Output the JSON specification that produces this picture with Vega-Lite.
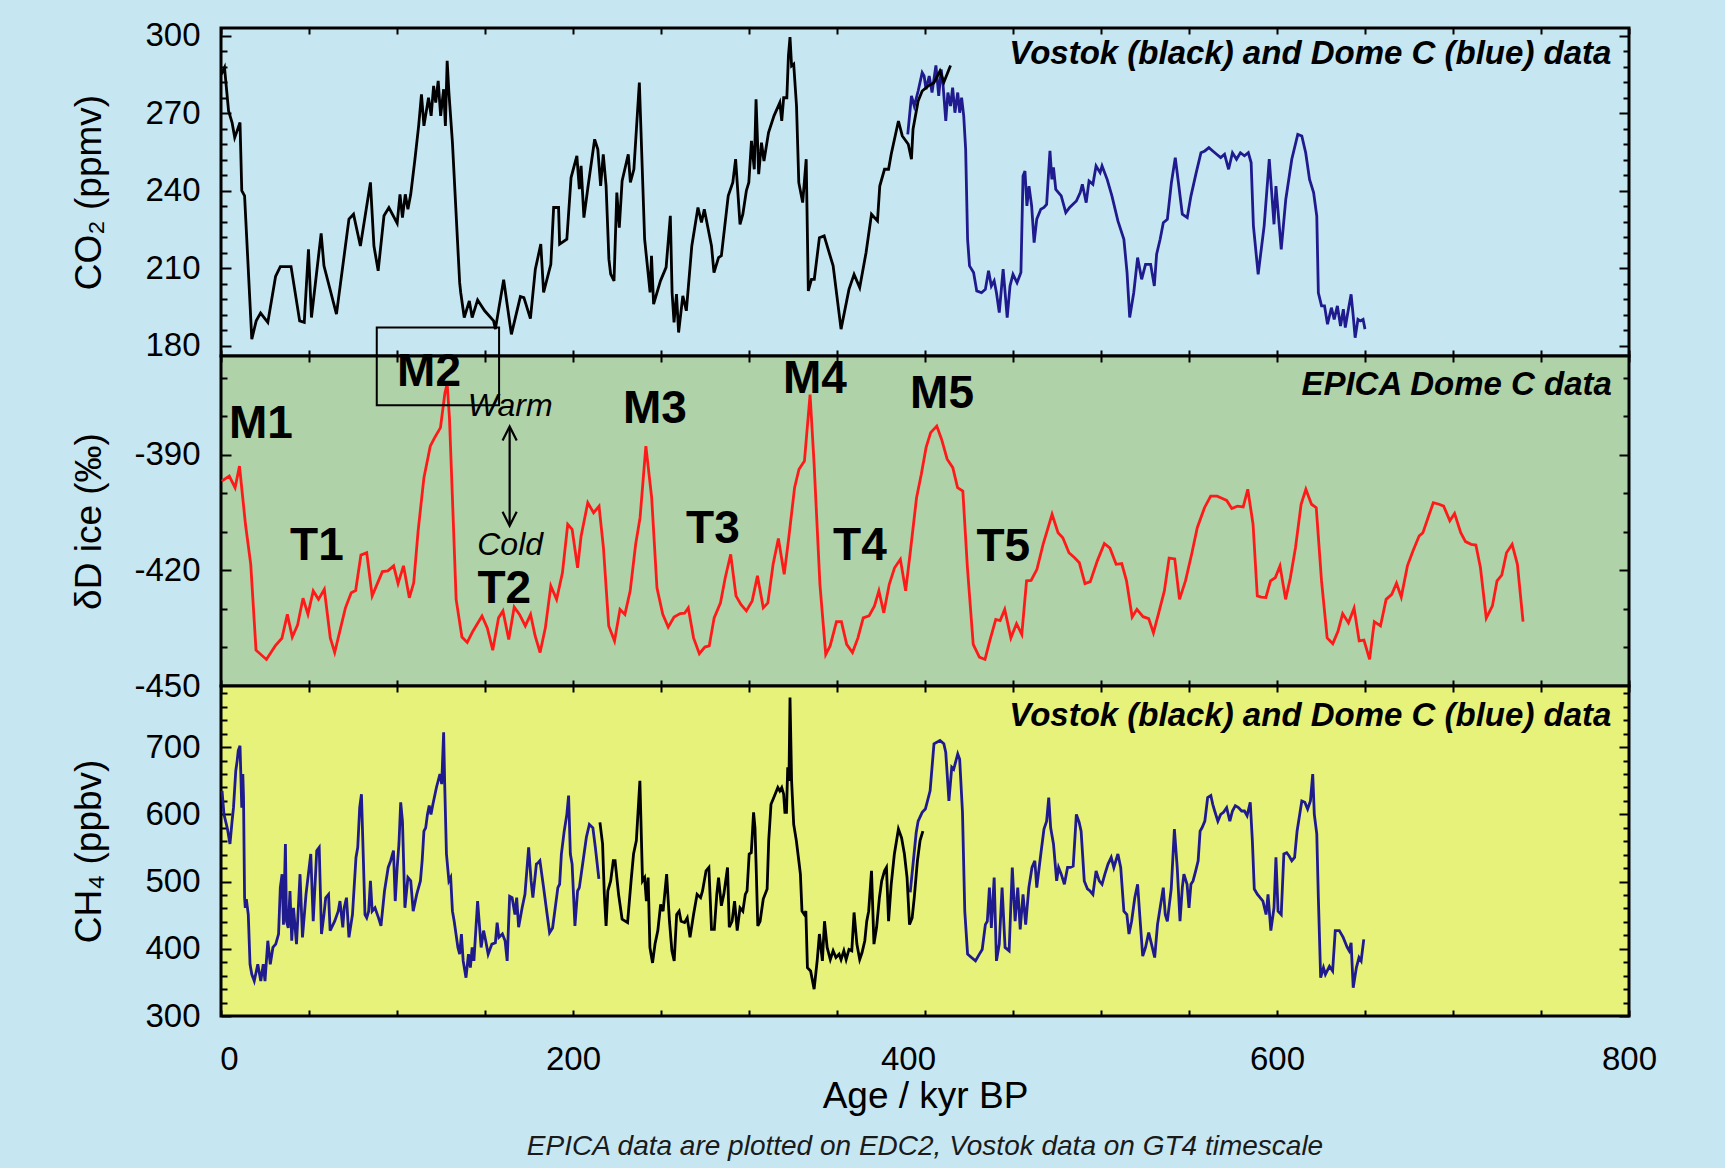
{
  "$schema": "https://vega.github.io/schema/vega-lite/v6.json",
  "background": "#c6e7f1",
  "padding": {"left": 68, "top": 18, "right": 72, "bottom": 11},
  "spacing": 0,
  "bounds": "flush",
  "config": {
    "font": "Liberation Sans",
    "view": {"stroke": null},
    "concat": {"spacing": 0},
    "axis": {
      "domain": false, "grid": false, "tickColor": "#000000", "tickWidth": 2, "tickSize": -6,
      "labelFont": "Liberation Sans", "labelFontSize": 33, "labelColor": "#000000",
      "titleFont": "Liberation Sans", "titleFontSize": 37, "titleFontWeight": "normal", "titleColor": "#000000",
      "labelOverlap": false, "labelFlush": false
    }
  },
  "title": {
    "text": "EPICA data are plotted on EDC2, Vostok data on GT4 timescale",
    "orient": "bottom", "anchor": "middle", "frame": "group",
    "font": "Liberation Sans", "fontSize": 28, "fontStyle": "italic", "fontWeight": "normal",
    "color": "#1a1a1a", "offset": 17
  },
  "datasets": {
    "co2_vostok": [
      {"age":0.2,"co2":285},{"age":2,"co2":287.7},{"age":4.3,"co2":270.9},{"age":6.3,"co2":266.4},{"age":7.8,"co2":260.6},{"age":8.8,"co2":262.5},{"age":10.8,"co2":266.4},{"age":11.8,"co2":240},{"age":13.4,"co2":238},{"age":17.5,"co2":182.5},{"age":20,"co2":189.6},{"age":22.5,"co2":192.6},{"age":26.6,"co2":189},{"age":31,"co2":206.8},{"age":33.7,"co2":210.6},{"age":39.8,"co2":210.6},{"age":44.7,"co2":189.6},{"age":47.3,"co2":189},{"age":49.7,"co2":217.3},{"age":51.4,"co2":190.9},{"age":56.9,"co2":223.5},{"age":58.5,"co2":210.9},{"age":65.6,"co2":192.2},{"age":72.7,"co2":229},{"age":75.3,"co2":230.9},{"age":79.2,"co2":218.6},{"age":84.9,"co2":243.2},{"age":86.9,"co2":218.6},{"age":89.3,"co2":209},{"age":92.6,"co2":230.3},{"age":95.4,"co2":233.5},{"age":100.1,"co2":227.4},{"age":101.7,"co2":238.6},{"age":103.1,"co2":229.6},{"age":104.7,"co2":238.6},{"age":106.2,"co2":232.8},{"age":107.8,"co2":238.6},{"age":110.2,"co2":252.2},{"age":112.3,"co2":265.1},{"age":113.9,"co2":277.3},{"age":115.3,"co2":265.1},{"age":117.9,"co2":276},{"age":119.4,"co2":269},{"age":120.8,"co2":280.6},{"age":122,"co2":274.1},{"age":123.4,"co2":282.5},{"age":124.8,"co2":269},{"age":126.5,"co2":279.3},{"age":127.5,"co2":265.1},{"age":128.5,"co2":290.3},{"age":129.5,"co2":278},{"age":131.5,"co2":258.6},{"age":135.6,"co2":204.4},{"age":136.2,"co2":200.6},{"age":138.2,"co2":190.9},{"age":141.1,"co2":197.3},{"age":142.7,"co2":190.9},{"age":145.8,"co2":197.7},{"age":149.8,"co2":193.5},{"age":154.9,"co2":189.6},{"age":155.9,"co2":186.4},{"age":160.6,"co2":205.5},{"age":165,"co2":184.4},{"age":170.1,"co2":199},{"age":172.1,"co2":198.6},{"age":175.8,"co2":190.5},{"age":178.6,"co2":209.6},{"age":181.7,"co2":219.3},{"age":183.3,"co2":200.6},{"age":187.4,"co2":211.5},{"age":189,"co2":233.5},{"age":191.8,"co2":233.5},{"age":192.4,"co2":219.3},{"age":196.5,"co2":221.2},{"age":198.9,"co2":245.1},{"age":202.2,"co2":253.5},{"age":203.6,"co2":240.6},{"age":204.6,"co2":249.6},{"age":206.2,"co2":229.6},{"age":208.6,"co2":241.9},{"age":212.3,"co2":259.9},{"age":214.1,"co2":256},{"age":215.7,"co2":241.9},{"age":217.2,"co2":254.1},{"age":218.8,"co2":241.9},{"age":220.4,"co2":213.5},{"age":221.4,"co2":207.7},{"age":223.3,"co2":205.1},{"age":224.9,"co2":239.3},{"age":226.3,"co2":225.7},{"age":227.9,"co2":243.8},{"age":231.4,"co2":254.1},{"age":232.6,"co2":243.2},{"age":234.6,"co2":248.3},{"age":237.7,"co2":281.9},{"age":240.7,"co2":221.2},{"age":243.8,"co2":200.6},{"age":244.6,"co2":214.8},{"age":245.8,"co2":196.1},{"age":249.7,"co2":205.1},{"age":252.9,"co2":210.3},{"age":255.3,"co2":230.3},{"age":256.3,"co2":200.6},{"age":257.4,"co2":189},{"age":258.8,"co2":200},{"age":260,"co2":185.1},{"age":262.4,"co2":199.3},{"age":264.4,"co2":193.5},{"age":267.5,"co2":218.6},{"age":271,"co2":233.5},{"age":273,"co2":227.7},{"age":274.6,"co2":232.8},{"age":278.7,"co2":218.6},{"age":280.1,"co2":208.3},{"age":282.7,"co2":214.1},{"age":284.3,"co2":214.8},{"age":288.2,"co2":238},{"age":290.8,"co2":243.2},{"age":292.4,"co2":252.2},{"age":294.9,"co2":227},{"age":296.5,"co2":230.9},{"age":298.5,"co2":240},{"age":299.9,"co2":243.2},{"age":301.4,"co2":259.3},{"age":303,"co2":248.3},{"age":304,"co2":275.4},{"age":305.5,"co2":246.4},{"age":307.1,"co2":258.6},{"age":308.5,"co2":251.5},{"age":311.1,"co2":262.5},{"age":314.2,"co2":269},{"age":317.5,"co2":274.1},{"age":318.6,"co2":267},{"age":319.7,"co2":276},{"age":321.5,"co2":276},{"age":322.4,"co2":292.2},{"age":323.3,"co2":299.5},{"age":324.2,"co2":288.3},{"age":325.4,"co2":289},{"age":327,"co2":272.8},{"age":328.3,"co2":243.1},{"age":330.5,"co2":235.4},{"age":332.5,"co2":252.2},{"age":333.7,"co2":201.2},{"age":335.5,"co2":205.7},{"age":337.1,"co2":205.7},{"age":340,"co2":221.8},{"age":342.7,"co2":222.5},{"age":347.8,"co2":210.9},{"age":352.3,"co2":186.4},{"age":356.8,"co2":201.8},{"age":359.7,"co2":207.6},{"age":362.9,"co2":202.5},{"age":366.5,"co2":216},{"age":369.6,"co2":230.9},{"age":373,"co2":228.3},{"age":374.3,"co2":241.8},{"age":377,"co2":248.3},{"age":379.3,"co2":248.3},{"age":380.8,"co2":254.1},{"age":384.9,"co2":267},{"age":387.1,"co2":261.2},{"age":390.5,"co2":258},{"age":392.3,"co2":252.2},{"age":393.2,"co2":263.8},{"age":396.1,"co2":274.7},{"age":398.4,"co2":278.6},{"age":401.7,"co2":280.5},{"age":405.1,"co2":281.8},{"age":408.5,"co2":286.3},{"age":410.7,"co2":282},{"age":414.5,"co2":288.5}
    ],
    "co2_domec": [
      {"age":390.2,"co2":261.8},{"age":392.3,"co2":276.7},{"age":393.9,"co2":272.8},{"age":396.1,"co2":278.6},{"age":398.4,"co2":285.7},{"age":399.5,"co2":284.4},{"age":400.6,"co2":279.3},{"age":402.4,"co2":284.4},{"age":404,"co2":278},{"age":406.2,"co2":288.5},{"age":407.8,"co2":276.7},{"age":409.2,"co2":287},{"age":410.3,"co2":280.6},{"age":411.8,"co2":267},{"age":413,"co2":278},{"age":414.5,"co2":272.8},{"age":415.7,"co2":279.9},{"age":417,"co2":270.2},{"age":418.6,"co2":278},{"age":419.7,"co2":270.2},{"age":420.8,"co2":276},{"age":422,"co2":269},{"age":423.1,"co2":256},{"age":424.2,"co2":221.2},{"age":425.3,"co2":210.9},{"age":427.6,"co2":208.3},{"age":429.4,"co2":201.2},{"age":432.1,"co2":200.5},{"age":434.3,"co2":201.8},{"age":436.1,"co2":209},{"age":437.7,"co2":203.1},{"age":439.3,"co2":205.1},{"age":440.6,"co2":200.5},{"age":442.2,"co2":192.8},{"age":444.4,"co2":209.6},{"age":446.7,"co2":190.9},{"age":448.3,"co2":203.1},{"age":450,"co2":207.6},{"age":452.3,"co2":204.4},{"age":454.5,"co2":208.3},{"age":455.7,"co2":245.7},{"age":456.8,"co2":247.6},{"age":457.9,"co2":234.1},{"age":459.1,"co2":241.8},{"age":460.6,"co2":234.1},{"age":462,"co2":219.9},{"age":463.5,"co2":229},{"age":465.8,"co2":232.8},{"age":467.6,"co2":233.5},{"age":469.1,"co2":234.7},{"age":471,"co2":255.4},{"age":472.1,"co2":244.4},{"age":473,"co2":249},{"age":474.3,"co2":240.5},{"age":477.4,"co2":238},{"age":480,"co2":231.5},{"age":482.2,"co2":233.5},{"age":486,"co2":236},{"age":488.2,"co2":239.3},{"age":489.4,"co2":242.5},{"age":491.6,"co2":235.4},{"age":493.2,"co2":243.8},{"age":495.4,"co2":242.5},{"age":497.2,"co2":249.6},{"age":499.5,"co2":247},{"age":500.6,"co2":249.6},{"age":503.5,"co2":244.4},{"age":506.2,"co2":238},{"age":509.6,"co2":228.3},{"age":513,"co2":221.2},{"age":514.8,"co2":208.3},{"age":516.3,"co2":190.9},{"age":518.6,"co2":200.5},{"age":520.8,"co2":214.1},{"age":523.1,"co2":205.7},{"age":525.3,"co2":211.5},{"age":528.2,"co2":211.5},{"age":530.3,"co2":203.1},{"age":531.6,"co2":215.4},{"age":533.6,"co2":221.2},{"age":535.4,"co2":227.6},{"age":537.7,"co2":228.9},{"age":540,"co2":243.1},{"age":542.2,"co2":252.8},{"age":544,"co2":243.1},{"age":546.2,"co2":230.9},{"age":549,"co2":229.6},{"age":551.1,"co2":237.9},{"age":554.1,"co2":247},{"age":556.8,"co2":254.7},{"age":559,"co2":255.4},{"age":561.3,"co2":256.7},{"age":563.5,"co2":255.4},{"age":565.7,"co2":254.1},{"age":568,"co2":252.8},{"age":570.2,"co2":254.1},{"age":572.5,"co2":248.3},{"age":574.7,"co2":254.7},{"age":577,"co2":252.2},{"age":579.2,"co2":254.7},{"age":581.5,"co2":253.5},{"age":583.7,"co2":254.7},{"age":585.3,"co2":250.9},{"age":586.6,"co2":226.4},{"age":589.3,"co2":207.6},{"age":592.7,"co2":226.4},{"age":595.6,"co2":252.2},{"age":598.3,"co2":227},{"age":599.4,"co2":241.8},{"age":602.4,"co2":217.3},{"age":605,"co2":236.7},{"age":608.4,"co2":252.2},{"age":611.8,"co2":261.8},{"age":614.1,"co2":261.2},{"age":616.3,"co2":254.7},{"age":618.5,"co2":244.4},{"age":620.8,"co2":239.3},{"age":622.6,"co2":230.2},{"age":623.5,"co2":200.5},{"age":625.3,"co2":195.4},{"age":627,"co2":195.4},{"age":628.7,"co2":188.3},{"age":630.9,"co2":194.7},{"age":632.5,"co2":190.2},{"age":634.3,"co2":195.4},{"age":636.1,"co2":187.6},{"age":637.7,"co2":194.1},{"age":638.8,"co2":187},{"age":639.9,"co2":191.5},{"age":642.1,"co2":199.9},{"age":643.3,"co2":191.5},{"age":644.4,"co2":183.1},{"age":646,"co2":190.2},{"age":647.3,"co2":189.6},{"age":648.9,"co2":190.2},{"age":650,"co2":186.4}
    ],
    "dd": [
      {"age":0.4,"dD":-396.8},{"age":4.7,"dD":-395.5},{"age":8,"dD":-398.5},{"age":10.5,"dD":-392.9},{"age":13.9,"dD":-408},{"age":16.9,"dD":-418.4},{"age":19.9,"dD":-440.7},{"age":25.8,"dD":-443.1},{"age":30.8,"dD":-439.6},{"age":34.6,"dD":-437.6},{"age":37.7,"dD":-431.4},{"age":40.5,"dD":-437.3},{"age":43.5,"dD":-434.2},{"age":46.6,"dD":-427.2},{"age":49.4,"dD":-431.4},{"age":52.4,"dD":-425.3},{"age":55.4,"dD":-427.5},{"age":58.7,"dD":-424.9},{"age":62.1,"dD":-437.5},{"age":64.6,"dD":-441.3},{"age":70.7,"dD":-429.7},{"age":74,"dD":-425.8},{"age":76.5,"dD":-425.2},{"age":79.5,"dD":-416},{"age":82.8,"dD":-415.4},{"age":85.9,"dD":-426.6},{"age":91.7,"dD":-420.3},{"age":94.8,"dD":-420.1},{"age":98.1,"dD":-418.8},{"age":100.6,"dD":-423.4},{"age":103.7,"dD":-418.8},{"age":107,"dD":-427.1},{"age":109.5,"dD":-423.2},{"age":112,"dD":-409.7},{"age":115.3,"dD":-395.9},{"age":118.9,"dD":-387.7},{"age":121.4,"dD":-385.5},{"age":124.7,"dD":-382.9},{"age":127.2,"dD":-374},{"age":128.5,"dD":-371.5},{"age":129.8,"dD":-380.3},{"age":131,"dD":-395},{"age":133.6,"dD":-427.5},{"age":136.9,"dD":-437.3},{"age":139.9,"dD":-438.7},{"age":143.2,"dD":-435.7},{"age":148.3,"dD":-431.8},{"age":151.3,"dD":-434.9},{"age":154.4,"dD":-440.7},{"age":157.7,"dD":-432.3},{"age":160.2,"dD":-430.5},{"age":163.5,"dD":-437.9},{"age":166.6,"dD":-429.5},{"age":169.6,"dD":-431.4},{"age":172.9,"dD":-434.4},{"age":175.9,"dD":-431.4},{"age":178.5,"dD":-437},{"age":181.3,"dD":-441.3},{"age":184.3,"dD":-434.9},{"age":187.4,"dD":-424},{"age":190.7,"dD":-427.5},{"age":194,"dD":-420.6},{"age":197,"dD":-408},{"age":199.5,"dD":-409.3},{"age":202.6,"dD":-419.3},{"age":204.6,"dD":-411.1},{"age":208.4,"dD":-402.4},{"age":211.7,"dD":-405},{"age":214.8,"dD":-403.3},{"age":217.3,"dD":-414.1},{"age":220.3,"dD":-434.4},{"age":223.6,"dD":-438.3},{"age":226.7,"dD":-430.1},{"age":229.5,"dD":-431.4},{"age":232.5,"dD":-425.3},{"age":235.6,"dD":-413.2},{"age":238.1,"dD":-406.3},{"age":241.4,"dD":-387.7},{"age":244.7,"dD":-401.1},{"age":247.7,"dD":-424.5},{"age":251,"dD":-431.4},{"age":254.1,"dD":-434.7},{"age":257.4,"dD":-432.1},{"age":260.9,"dD":-431.2},{"age":263.4,"dD":-431.1},{"age":265.5,"dD":-429.7},{"age":268.5,"dD":-437.5},{"age":271.8,"dD":-441.6},{"age":274.9,"dD":-439.9},{"age":277.4,"dD":-439.6},{"age":280.2,"dD":-432.3},{"age":283.8,"dD":-428.4},{"age":286.5,"dD":-421.9},{"age":289.6,"dD":-415.8},{"age":292.6,"dD":-426.6},{"age":295.4,"dD":-428.8},{"age":298.5,"dD":-430.5},{"age":301.8,"dD":-427.9},{"age":304.8,"dD":-421.4},{"age":308.1,"dD":-429.7},{"age":310.7,"dD":-428.4},{"age":313.7,"dD":-418.4},{"age":316.7,"dD":-411.7},{"age":320,"dD":-421},{"age":322.6,"dD":-411.5},{"age":325.9,"dD":-398.5},{"age":328.4,"dD":-393.7},{"age":331.5,"dD":-391.6},{"age":334.7,"dD":-374.3},{"age":337,"dD":-392.4},{"age":340.3,"dD":-423.6},{"age":343.6,"dD":-441.8},{"age":346.1,"dD":-439.6},{"age":349.7,"dD":-433.3},{"age":352.5,"dD":-433.3},{"age":355.5,"dD":-439.2},{"age":358.8,"dD":-441.3},{"age":361.9,"dD":-437.5},{"age":364.9,"dD":-432.3},{"age":368.2,"dD":-431.8},{"age":371.3,"dD":-429.2},{"age":373.8,"dD":-425.3},{"age":376.6,"dD":-431},{"age":379.7,"dD":-423.6},{"age":382.7,"dD":-419.3},{"age":386,"dD":-417.1},{"age":389,"dD":-425.3},{"age":391.7,"dD":-415},{"age":395.2,"dD":-401.1},{"age":397.9,"dD":-395},{"age":400.6,"dD":-388.1},{"age":403.2,"dD":-384.2},{"age":406.7,"dD":-382.5},{"age":409.4,"dD":-385.9},{"age":412.6,"dD":-391.1},{"age":415.8,"dD":-393.3},{"age":418.5,"dD":-398.5},{"age":421.5,"dD":-399.4},{"age":424.1,"dD":-419.3},{"age":427.4,"dD":-439.2},{"age":430.9,"dD":-442.5},{"age":434.1,"dD":-443.1},{"age":436.8,"dD":-438.3},{"age":440.2,"dD":-432.7},{"age":442.7,"dD":-433},{"age":445.3,"dD":-430.1},{"age":448.8,"dD":-437.5},{"age":452,"dD":-433.8},{"age":455,"dD":-436.6},{"age":457.7,"dD":-422.7},{"age":460.3,"dD":-422.6},{"age":463.6,"dD":-419.7},{"age":467.1,"dD":-413.2},{"age":472.2,"dD":-405.4},{"age":475.6,"dD":-410.2},{"age":478.3,"dD":-411.5},{"age":481.8,"dD":-415.4},{"age":485,"dD":-416.7},{"age":487.7,"dD":-418},{"age":490.9,"dD":-423.4},{"age":493.9,"dD":-422.9},{"age":497.9,"dD":-417.5},{"age":501.9,"dD":-413},{"age":505.1,"dD":-414.2},{"age":508.6,"dD":-418.4},{"age":511.8,"dD":-418.2},{"age":514.5,"dD":-422.7},{"age":517.7,"dD":-432.1},{"age":520.4,"dD":-430.1},{"age":523.9,"dD":-432},{"age":527.1,"dD":-432.5},{"age":529.8,"dD":-436.2},{"age":532.8,"dD":-431},{"age":536,"dD":-425.3},{"age":538.7,"dD":-416.8},{"age":541.9,"dD":-417},{"age":544.6,"dD":-427.5},{"age":548,"dD":-422.7},{"age":551.5,"dD":-415.8},{"age":554.7,"dD":-408.9},{"age":558.8,"dD":-403.7},{"age":562.3,"dD":-400.7},{"age":566,"dD":-400.7},{"age":569,"dD":-401.3},{"age":571.4,"dD":-401.8},{"age":574.3,"dD":-403.9},{"age":577.5,"dD":-403.3},{"age":580.8,"dD":-403.5},{"age":583.4,"dD":-398.9},{"age":586.4,"dD":-408},{"age":588.8,"dD":-426.6},{"age":591,"dD":-426.9},{"age":593.7,"dD":-427},{"age":596.3,"dD":-422.7},{"age":599,"dD":-421.9},{"age":601.7,"dD":-418.8},{"age":604.9,"dD":-427.5},{"age":607.6,"dD":-421.9},{"age":610.5,"dD":-414.1},{"age":613.7,"dD":-402.8},{"age":616.4,"dD":-398.9},{"age":619.6,"dD":-402.8},{"age":622.3,"dD":-403.7},{"age":625.3,"dD":-422.7},{"age":628.5,"dD":-437.5},{"age":631.7,"dD":-439},{"age":634.7,"dD":-435.7},{"age":637.3,"dD":-431.2},{"age":640.6,"dD":-433.6},{"age":643.8,"dD":-429.8},{"age":646.7,"dD":-438.3},{"age":649.4,"dD":-438.1},{"age":652.6,"dD":-443.1},{"age":655.3,"dD":-433.3},{"age":658.8,"dD":-434.4},{"age":662,"dD":-427.5},{"age":665.2,"dD":-426.2},{"age":667.9,"dD":-423.3},{"age":670.6,"dD":-426.9},{"age":674.1,"dD":-418.8},{"age":677.3,"dD":-414.9},{"age":680.8,"dD":-411},{"age":682.9,"dD":-410.2},{"age":686.2,"dD":-405.8},{"age":688.8,"dD":-402.4},{"age":692.1,"dD":-402.8},{"age":694.7,"dD":-403.3},{"age":698.2,"dD":-407.1},{"age":700.9,"dD":-405.2},{"age":704.4,"dD":-410.2},{"age":707.1,"dD":-412.5},{"age":710.3,"dD":-413.2},{"age":713,"dD":-413.4},{"age":715.6,"dD":-419.3},{"age":718.9,"dD":-432.4},{"age":722.4,"dD":-429.2},{"age":725,"dD":-422.7},{"age":727.7,"dD":-421.2},{"age":730.4,"dD":-415.4},{"age":733.6,"dD":-413.2},{"age":736.6,"dD":-418.4},{"age":739.8,"dD":-433.3}
    ],
    "ch4_domec": [
      {"seg":"a","age":0.6,"ch4":635},{"seg":"a","age":1.7,"ch4":600},{"seg":"a","age":3.7,"ch4":578},{"seg":"a","age":5.1,"ch4":556},{"seg":"a","age":6.3,"ch4":590},{"seg":"a","age":7.1,"ch4":610},{"seg":"a","age":8.4,"ch4":665},{"seg":"a","age":9.2,"ch4":680},{"seg":"a","age":9.8,"ch4":695},{"seg":"a","age":10.8,"ch4":702},{"seg":"a","age":11.8,"ch4":610},{"seg":"a","age":12.4,"ch4":660},{"seg":"a","age":12.8,"ch4":625},{"seg":"a","age":13.4,"ch4":476},{"seg":"a","age":13.8,"ch4":461},{"seg":"a","age":14.4,"ch4":474},{"seg":"a","age":15.5,"ch4":451},{"seg":"a","age":16.5,"ch4":377},{"seg":"a","age":17.5,"ch4":362},{"seg":"a","age":18.9,"ch4":352},{"seg":"a","age":20.9,"ch4":377},{"seg":"a","age":22.6,"ch4":352},{"seg":"a","age":24,"ch4":377},{"seg":"a","age":25,"ch4":352},{"seg":"a","age":26.6,"ch4":412},{"seg":"a","age":28,"ch4":377},{"seg":"a","age":29.5,"ch4":402},{"seg":"a","age":31.1,"ch4":407},{"seg":"a","age":32.7,"ch4":422},{"seg":"a","age":33.7,"ch4":491},{"seg":"a","age":34.7,"ch4":511},{"seg":"a","age":35.5,"ch4":436},{"seg":"a","age":36.6,"ch4":556},{"seg":"a","age":37.2,"ch4":441},{"seg":"a","age":38.2,"ch4":431},{"seg":"a","age":39.2,"ch4":486},{"seg":"a","age":40.2,"ch4":412},{"seg":"a","age":41.2,"ch4":461},{"seg":"a","age":42.9,"ch4":407},{"seg":"a","age":44.9,"ch4":511},{"seg":"a","age":46.3,"ch4":417},{"seg":"a","age":48.3,"ch4":481},{"seg":"a","age":51,"ch4":541},{"seg":"a","age":52.4,"ch4":441},{"seg":"a","age":54.4,"ch4":546},{"seg":"a","age":55.8,"ch4":551},{"seg":"a","age":57.1,"ch4":422},{"seg":"a","age":58.5,"ch4":451},{"seg":"a","age":59.5,"ch4":476},{"seg":"a","age":61.1,"ch4":481},{"seg":"a","age":62,"ch4":427},{"seg":"a","age":64.6,"ch4":441},{"seg":"a","age":66.6,"ch4":456},{"seg":"a","age":67.6,"ch4":471},{"seg":"a","age":69.2,"ch4":432},{"seg":"a","age":70,"ch4":461},{"seg":"a","age":71.3,"ch4":476},{"seg":"a","age":72.7,"ch4":417},{"seg":"a","age":74.7,"ch4":451},{"seg":"a","age":76.7,"ch4":536},{"seg":"a","age":77.7,"ch4":551},{"seg":"a","age":78.8,"ch4":610},{"seg":"a","age":79.8,"ch4":630},{"seg":"a","age":80.8,"ch4":541},{"seg":"a","age":81.8,"ch4":451},{"seg":"a","age":82.8,"ch4":446},{"seg":"a","age":83.9,"ch4":456},{"seg":"a","age":84.9,"ch4":501},{"seg":"a","age":85.9,"ch4":456},{"seg":"a","age":87.5,"ch4":461},{"seg":"a","age":89.5,"ch4":446},{"seg":"a","age":90.9,"ch4":434},{"seg":"a","age":92.9,"ch4":486},{"seg":"a","age":95,"ch4":521},{"seg":"a","age":96.4,"ch4":531},{"seg":"a","age":98,"ch4":546},{"seg":"a","age":99,"ch4":471},{"seg":"a","age":100.1,"ch4":521},{"seg":"a","age":101.1,"ch4":556},{"seg":"a","age":102.1,"ch4":618},{"seg":"a","age":103.1,"ch4":590},{"seg":"a","age":104.5,"ch4":461},{"seg":"a","age":106.2,"ch4":506},{"seg":"a","age":107.8,"ch4":501},{"seg":"a","age":109.2,"ch4":456},{"seg":"a","age":111.2,"ch4":481},{"seg":"a","age":113.3,"ch4":501},{"seg":"a","age":114.3,"ch4":531},{"seg":"a","age":115.3,"ch4":575},{"seg":"a","age":116.3,"ch4":580},{"seg":"a","age":117.3,"ch4":600},{"seg":"a","age":118.3,"ch4":613},{"seg":"a","age":119.3,"ch4":600},{"seg":"a","age":120.4,"ch4":615},{"seg":"a","age":122.4,"ch4":640},{"seg":"a","age":123.4,"ch4":650},{"seg":"a","age":124.4,"ch4":660},{"seg":"a","age":125.4,"ch4":645},{"seg":"a","age":126.5,"ch4":722},{"seg":"a","age":127.1,"ch4":645},{"seg":"a","age":128.1,"ch4":541},{"seg":"a","age":129.5,"ch4":501},{"seg":"a","age":130.5,"ch4":506},{"seg":"a","age":131.5,"ch4":456},{"seg":"a","age":132.5,"ch4":441},{"seg":"a","age":134.6,"ch4":402},{"seg":"a","age":135.6,"ch4":392},{"seg":"a","age":136.6,"ch4":422},{"seg":"a","age":137.6,"ch4":382},{"seg":"a","age":139.2,"ch4":357},{"seg":"a","age":140.6,"ch4":392},{"seg":"a","age":141.7,"ch4":372},{"seg":"a","age":142.7,"ch4":402},{"seg":"a","age":143.7,"ch4":382},{"seg":"a","age":145.8,"ch4":471},{"seg":"a","age":147.8,"ch4":402},{"seg":"a","age":149.2,"ch4":427},{"seg":"a","age":150.4,"ch4":412},{"seg":"a","age":151.8,"ch4":392},{"seg":"a","age":153.9,"ch4":407},{"seg":"a","age":155.9,"ch4":409},{"seg":"a","age":156.9,"ch4":439},{"seg":"a","age":157.9,"ch4":417},{"seg":"a","age":159.9,"ch4":422},{"seg":"a","age":161.4,"ch4":412},{"seg":"a","age":162.6,"ch4":382},{"seg":"a","age":164,"ch4":478},{"seg":"a","age":165.4,"ch4":476},{"seg":"a","age":167,"ch4":451},{"seg":"a","age":168,"ch4":476},{"seg":"a","age":169.1,"ch4":432},{"seg":"a","age":171.1,"ch4":461},{"seg":"a","age":172.7,"ch4":481},{"seg":"a","age":174.8,"ch4":551},{"seg":"a","age":176.2,"ch4":501},{"seg":"a","age":177.2,"ch4":476},{"seg":"a","age":179.2,"ch4":526},{"seg":"a","age":180.2,"ch4":528},{"seg":"a","age":181.2,"ch4":531},{"seg":"a","age":183.3,"ch4":491},{"seg":"a","age":185.3,"ch4":451},{"seg":"a","age":186.7,"ch4":424},{"seg":"a","age":188.4,"ch4":431},{"seg":"a","age":190.4,"ch4":471},{"seg":"a","age":191.4,"ch4":491},{"seg":"a","age":192.4,"ch4":496},{"seg":"a","age":193.4,"ch4":541},{"seg":"a","age":195,"ch4":575},{"seg":"a","age":196.5,"ch4":600},{"seg":"a","age":197.5,"ch4":628},{"seg":"a","age":198.5,"ch4":541},{"seg":"a","age":199.5,"ch4":526},{"seg":"a","age":201.1,"ch4":434},{"seg":"a","age":202.6,"ch4":486},{"seg":"a","age":203.6,"ch4":491},{"seg":"a","age":205.2,"ch4":521},{"seg":"a","age":207.6,"ch4":566},{"seg":"a","age":209.3,"ch4":585},{"seg":"a","age":211.3,"ch4":580},{"seg":"a","age":212.7,"ch4":551},{"seg":"a","age":214.7,"ch4":504},
      {"seg":"b","age":391.6,"ch4":484},{"seg":"b","age":395,"ch4":573},{"seg":"b","age":396.1,"ch4":590},{"seg":"b","age":398.4,"ch4":603},{"seg":"b","age":400.2,"ch4":608},{"seg":"b","age":402.9,"ch4":635},{"seg":"b","age":405.1,"ch4":705},{"seg":"b","age":408.5,"ch4":710},{"seg":"b","age":410.7,"ch4":705},{"seg":"b","age":411.8,"ch4":692},{"seg":"b","age":413.6,"ch4":620},{"seg":"b","age":415.2,"ch4":670},{"seg":"b","age":416.3,"ch4":667},{"seg":"b","age":418.6,"ch4":690},{"seg":"b","age":419.7,"ch4":682},{"seg":"b","age":421.3,"ch4":603},{"seg":"b","age":422.6,"ch4":456},{"seg":"b","age":424.2,"ch4":392},{"seg":"b","age":426.4,"ch4":387},{"seg":"b","age":428.7,"ch4":382},{"seg":"b","age":430.9,"ch4":392},{"seg":"b","age":432.5,"ch4":399},{"seg":"b","age":434.3,"ch4":436},{"seg":"b","age":435.4,"ch4":441},{"seg":"b","age":436.6,"ch4":491},{"seg":"b","age":437.7,"ch4":431},{"seg":"b","age":439.3,"ch4":506},{"seg":"b","age":440.6,"ch4":382},{"seg":"b","age":442.2,"ch4":407},{"seg":"b","age":443.8,"ch4":491},{"seg":"b","age":445.5,"ch4":402},{"seg":"b","age":447.8,"ch4":397},{"seg":"b","age":449.6,"ch4":521},{"seg":"b","age":451.2,"ch4":441},{"seg":"b","age":452.7,"ch4":491},{"seg":"b","age":454.1,"ch4":429},{"seg":"b","age":455.7,"ch4":481},{"seg":"b","age":457.2,"ch4":436},{"seg":"b","age":459,"ch4":491},{"seg":"b","age":460.8,"ch4":521},{"seg":"b","age":462.4,"ch4":531},{"seg":"b","age":463.5,"ch4":491},{"seg":"b","age":465.8,"ch4":541},{"seg":"b","age":467.6,"ch4":578},{"seg":"b","age":469.1,"ch4":590},{"seg":"b","age":470.3,"ch4":625},{"seg":"b","age":471.4,"ch4":580},{"seg":"b","age":473,"ch4":556},{"seg":"b","age":474.8,"ch4":501},{"seg":"b","age":475.9,"ch4":521},{"seg":"b","age":477.4,"ch4":511},{"seg":"b","age":479.2,"ch4":496},{"seg":"b","age":481,"ch4":521},{"seg":"b","age":482.6,"ch4":521},{"seg":"b","age":484.2,"ch4":523},{"seg":"b","age":486,"ch4":600},{"seg":"b","age":487.6,"ch4":588},{"seg":"b","age":488.7,"ch4":575},{"seg":"b","age":490.5,"ch4":501},{"seg":"b","age":492.3,"ch4":489},{"seg":"b","age":493.8,"ch4":486},{"seg":"b","age":495.4,"ch4":481},{"seg":"b","age":497.2,"ch4":516},{"seg":"b","age":499,"ch4":501},{"seg":"b","age":500.6,"ch4":496},{"seg":"b","age":502.2,"ch4":511},{"seg":"b","age":504,"ch4":526},{"seg":"b","age":505.8,"ch4":536},{"seg":"b","age":507.3,"ch4":521},{"seg":"b","age":509.6,"ch4":541},{"seg":"b","age":511.2,"ch4":521},{"seg":"b","age":513,"ch4":456},{"seg":"b","age":514.7,"ch4":451},{"seg":"b","age":515.9,"ch4":422},{"seg":"b","age":517.4,"ch4":441},{"seg":"b","age":519.2,"ch4":476},{"seg":"b","age":520.8,"ch4":496},{"seg":"b","age":522,"ch4":451},{"seg":"b","age":523.7,"ch4":389},{"seg":"b","age":525.3,"ch4":402},{"seg":"b","age":527.1,"ch4":424},{"seg":"b","age":528.7,"ch4":407},{"seg":"b","age":530.5,"ch4":387},{"seg":"b","age":532.1,"ch4":436},{"seg":"b","age":533.6,"ch4":461},{"seg":"b","age":535.4,"ch4":491},{"seg":"b","age":536.5,"ch4":451},{"seg":"b","age":537.7,"ch4":441},{"seg":"b","age":539.9,"ch4":489},{"seg":"b","age":541.7,"ch4":578},{"seg":"b","age":543.3,"ch4":521},{"seg":"b","age":544.9,"ch4":441},{"seg":"b","age":546.2,"ch4":491},{"seg":"b","age":547.1,"ch4":511},{"seg":"b","age":548.9,"ch4":496},{"seg":"b","age":550,"ch4":461},{"seg":"b","age":551.1,"ch4":496},{"seg":"b","age":552.3,"ch4":501},{"seg":"b","age":553.8,"ch4":516},{"seg":"b","age":555.2,"ch4":531},{"seg":"b","age":556.3,"ch4":575},{"seg":"b","age":557.4,"ch4":580},{"seg":"b","age":559,"ch4":590},{"seg":"b","age":560.6,"ch4":625},{"seg":"b","age":562.4,"ch4":628},{"seg":"b","age":563.5,"ch4":615},{"seg":"b","age":564.6,"ch4":605},{"seg":"b","age":566.4,"ch4":590},{"seg":"b","age":568,"ch4":600},{"seg":"b","age":569.6,"ch4":603},{"seg":"b","age":571.4,"ch4":610},{"seg":"b","age":573.2,"ch4":590},{"seg":"b","age":574.7,"ch4":605},{"seg":"b","age":576.3,"ch4":613},{"seg":"b","age":578.1,"ch4":610},{"seg":"b","age":579.9,"ch4":605},{"seg":"b","age":581.5,"ch4":605},{"seg":"b","age":583,"ch4":598},{"seg":"b","age":584.8,"ch4":618},{"seg":"b","age":586,"ch4":561},{"seg":"b","age":587.1,"ch4":489},{"seg":"b","age":588.9,"ch4":481},{"seg":"b","age":590.4,"ch4":476},{"seg":"b","age":592,"ch4":471},{"seg":"b","age":593.8,"ch4":451},{"seg":"b","age":594.9,"ch4":481},{"seg":"b","age":596.5,"ch4":427},{"seg":"b","age":598.3,"ch4":461},{"seg":"b","age":599.4,"ch4":536},{"seg":"b","age":600.6,"ch4":456},{"seg":"b","age":602.4,"ch4":451},{"seg":"b","age":603.9,"ch4":541},{"seg":"b","age":605.5,"ch4":543},{"seg":"b","age":606.9,"ch4":538},{"seg":"b","age":608.4,"ch4":531},{"seg":"b","age":610,"ch4":536},{"seg":"b","age":611.4,"ch4":575},{"seg":"b","age":612.9,"ch4":600},{"seg":"b","age":614.1,"ch4":620},{"seg":"b","age":615.8,"ch4":618},{"seg":"b","age":617.4,"ch4":608},{"seg":"b","age":619,"ch4":620},{"seg":"b","age":620.3,"ch4":660},{"seg":"b","age":621.2,"ch4":600},{"seg":"b","age":622.6,"ch4":571},{"seg":"b","age":623.5,"ch4":476},{"seg":"b","age":624.8,"ch4":357},{"seg":"b","age":626.4,"ch4":372},{"seg":"b","age":627.5,"ch4":362},{"seg":"b","age":629.8,"ch4":374},{"seg":"b","age":631.6,"ch4":367},{"seg":"b","age":633.1,"ch4":427},{"seg":"b","age":635.4,"ch4":427},{"seg":"b","age":637.6,"ch4":417},{"seg":"b","age":639.9,"ch4":402},{"seg":"b","age":641,"ch4":397},{"seg":"b","age":642.1,"ch4":409},{"seg":"b","age":643.3,"ch4":342},{"seg":"b","age":645.1,"ch4":372},{"seg":"b","age":646.6,"ch4":387},{"seg":"b","age":647.8,"ch4":382},{"seg":"b","age":649.3,"ch4":414}
    ],
    "ch4_vostok": [
      {"age":215.3,"ch4":588},{"age":216.8,"ch4":556},{"age":217.8,"ch4":481},{"age":218.8,"ch4":434},{"age":219.8,"ch4":486},{"age":221.4,"ch4":501},{"age":222.9,"ch4":531},{"age":223.9,"ch4":531},{"age":225.9,"ch4":481},{"age":227.9,"ch4":444},{"age":231,"ch4":439},{"age":233,"ch4":501},{"age":234.4,"ch4":541},{"age":236,"ch4":561},{"age":238,"ch4":650},{"age":239.5,"ch4":501},{"age":240.7,"ch4":506},{"age":241.7,"ch4":471},{"age":242.7,"ch4":506},{"age":243.7,"ch4":402},{"age":245.2,"ch4":379},{"age":246.6,"ch4":407},{"age":248.2,"ch4":427},{"age":249.8,"ch4":466},{"age":251.2,"ch4":456},{"age":253.2,"ch4":511},{"age":254.8,"ch4":441},{"age":256.2,"ch4":397},{"age":257.5,"ch4":382},{"age":258.9,"ch4":451},{"age":260.3,"ch4":456},{"age":261.4,"ch4":441},{"age":263.4,"ch4":439},{"age":264.9,"ch4":446},{"age":266.5,"ch4":417},{"age":268.5,"ch4":451},{"age":270.5,"ch4":481},{"age":272.5,"ch4":476},{"age":273.6,"ch4":486},{"age":275.6,"ch4":516},{"age":277.2,"ch4":521},{"age":278.7,"ch4":429},{"age":280.3,"ch4":429},{"age":281.7,"ch4":481},{"age":282.7,"ch4":506},{"age":284.3,"ch4":464},{"age":285.7,"ch4":481},{"age":287.8,"ch4":521},{"age":288.8,"ch4":432},{"age":290.4,"ch4":441},{"age":291.8,"ch4":471},{"age":293.3,"ch4":427},{"age":294.9,"ch4":461},{"age":296.5,"ch4":456},{"age":297.9,"ch4":481},{"age":298.9,"ch4":486},{"age":300.1,"ch4":541},{"age":301.3,"ch4":543},{"age":302.6,"ch4":603},{"age":303.4,"ch4":580},{"age":304,"ch4":528},{"age":305,"ch4":434},{"age":306.3,"ch4":441},{"age":308.1,"ch4":474},{"age":310.3,"ch4":489},{"age":311.2,"ch4":561},{"age":312.5,"ch4":615},{"age":314.1,"ch4":625},{"age":316.4,"ch4":640},{"age":317.5,"ch4":635},{"age":318.6,"ch4":640},{"age":319.7,"ch4":630},{"age":320.4,"ch4":603},{"age":321.3,"ch4":603},{"age":322,"ch4":670},{"age":322.7,"ch4":650},{"age":323.3,"ch4":774},{"age":324.2,"ch4":650},{"age":325.4,"ch4":585},{"age":326.9,"ch4":561},{"age":328.3,"ch4":531},{"age":329.2,"ch4":511},{"age":330.1,"ch4":456},{"age":331.4,"ch4":451},{"age":332.3,"ch4":456},{"age":333.2,"ch4":372},{"age":335,"ch4":367},{"age":337,"ch4":340},{"age":338.8,"ch4":384},{"age":340,"ch4":422},{"age":341.7,"ch4":382},{"age":342.9,"ch4":441},{"age":344.4,"ch4":402},{"age":346.2,"ch4":384},{"age":347.8,"ch4":397},{"age":349.4,"ch4":387},{"age":351.2,"ch4":392},{"age":352.3,"ch4":384},{"age":353.9,"ch4":397},{"age":355.2,"ch4":384},{"age":356.8,"ch4":399},{"age":358.4,"ch4":397},{"age":359.7,"ch4":454},{"age":361.3,"ch4":407},{"age":362.9,"ch4":384},{"age":364.2,"ch4":394},{"age":365.8,"ch4":412},{"age":366.9,"ch4":441},{"age":368,"ch4":456},{"age":369.6,"ch4":516},{"age":371,"ch4":407},{"age":372.5,"ch4":432},{"age":374.1,"ch4":476},{"age":375.4,"ch4":501},{"age":377,"ch4":516},{"age":378.1,"ch4":521},{"age":379.3,"ch4":441},{"age":380.8,"ch4":496},{"age":382.6,"ch4":541},{"age":384.9,"ch4":578},{"age":386.7,"ch4":565},{"age":388.3,"ch4":541},{"age":389.8,"ch4":506},{"age":391.2,"ch4":436},{"age":392.7,"ch4":446},{"age":393.9,"ch4":476},{"age":395.7,"ch4":531},{"age":397.2,"ch4":561},{"age":398.8,"ch4":575}
    ],
    "events": [
      {"age":22.7,"dD":-385.6,"label":"M1"},{"age":118.2,"dD":-372.1,"label":"M2"},{"age":246.5,"dD":-381.7,"label":"M3"},{"age":337.5,"dD":-373.9,"label":"M4"},{"age":409.7,"dD":-377.8,"label":"M5"},
      {"age":54.5,"dD":-417.3,"label":"T1"},{"age":161,"dD":-428.4,"label":"T2"},{"age":279.5,"dD":-412.9,"label":"T3"},{"age":363,"dD":-417.3,"label":"T4"},{"age":444.5,"dD":-417.5,"label":"T5"}
    ]
  },
  "vconcat": [
    {
      "width": 1408, "height": 328,
      "view": {"fill": "#c6e7f1", "stroke": "#000000", "strokeWidth": 3},
      "resolve": {"axis": {"x": "independent", "y": "independent"}},
      "layer": [
        {
          "data": {"name": "co2_domec"},
          "mark": {"type": "line", "color": "#1f1b8f", "strokeWidth": 2.8},
          "encoding": {
            "x": {"field": "age", "type": "quantitative", "scale": {"domain": [0, 800], "nice": false, "zero": false},
                  "axis": {"orient": "bottom", "values": [0,50,100,150,200,250,300,350,400,450,500,550,600,650,700,750,800], "labels": false, "title": null}},
            "y": {"field": "co2", "type": "quantitative", "scale": {"domain": [176, 303], "nice": false, "zero": false},
                  "axis": {"orient": "left", "values": [180,186,192,198,204,210,216,222,228,234,240,246,252,258,264,270,276,282,288,294,300],
                           "labelExpr": "datum.value % 30 === 0 ? toString(datum.value) : ''",
                           "tickSize": {"condition": {"test": "datum.value % 30 === 0", "value": -10}, "value": -6},
                           "labelPadding": 31, "title": "CO₂ (ppmv)", "titleX": -121, "titleBaseline": "alphabetic"}}
          }
        },
        {
          "data": {"name": "co2_vostok"},
          "mark": {"type": "line", "color": "#000000", "strokeWidth": 2.8},
          "encoding": {
            "x": {"field": "age", "type": "quantitative", "scale": {"domain": [0, 800], "nice": false, "zero": false},
                  "axis": {"orient": "top", "values": [0,50,100,150,200,250,300,350,400,450,500,550,600,650,700,750,800], "labels": false, "title": null}},
            "y": {"field": "co2", "type": "quantitative", "scale": {"domain": [176, 303], "nice": false, "zero": false},
                  "axis": {"orient": "right", "values": [180,186,192,198,204,210,216,222,228,234,240,246,252,258,264,270,276,282,288,294,300],
                           "labels": false, "title": null,
                           "tickSize": {"condition": {"test": "datum.value % 30 === 0", "value": -10}, "value": -6}}}
          }
        },
        {
          "data": {"values": [{"a0": 88.5, "a1": 158, "v0": 187, "v1": 150}]},
          "mark": {"type": "rect", "fillOpacity": 0, "stroke": "#000000", "strokeWidth": 2, "clip": true},
          "encoding": {
            "x": {"field": "a0", "type": "quantitative", "scale": {"domain": [0, 800], "nice": false, "zero": false}, "axis": null},
            "x2": {"field": "a1"},
            "y": {"field": "v0", "type": "quantitative", "scale": {"domain": [176, 303], "nice": false, "zero": false}, "axis": null},
            "y2": {"field": "v1"}
          }
        },
        {
          "data": {"values": [{"age": 790, "co2": 288.9, "label": "Vostok (black) and Dome C (blue) data"}]},
          "mark": {"type": "text", "align": "right", "baseline": "alphabetic", "font": "Liberation Sans", "fontSize": 33, "fontWeight": "bold", "fontStyle": "italic", "color": "#000000"},
          "encoding": {
            "x": {"field": "age", "type": "quantitative", "scale": {"domain": [0, 800], "nice": false, "zero": false}, "axis": null},
            "y": {"field": "co2", "type": "quantitative", "scale": {"domain": [176, 303], "nice": false, "zero": false}, "axis": null},
            "text": {"field": "label"}
          }
        }
      ]
    },
    {
      "width": 1408, "height": 330,
      "view": {"fill": "#b0d2a8", "stroke": "#000000", "strokeWidth": 3},
      "resolve": {"axis": {"x": "independent", "y": "independent"}},
      "layer": [
        {
          "data": {"name": "dd"},
          "mark": {"type": "line", "color": "#ff1a1a", "strokeWidth": 2.8},
          "encoding": {
            "x": {"field": "age", "type": "quantitative", "scale": {"domain": [0, 800], "nice": false, "zero": false},
                  "axis": {"orient": "bottom", "values": [0,50,100,150,200,250,300,350,400,450,500,550,600,650,700,750,800], "labels": false, "title": null}},
            "y": {"field": "dD", "type": "quantitative", "scale": {"domain": [-450, -364.3], "nice": false, "zero": false},
                  "axis": {"orient": "left", "values": [-450,-440,-430,-420,-410,-400,-390,-380,-370],
                           "labelExpr": "datum.value % 30 === 0 ? toString(datum.value) : ''",
                           "tickSize": {"condition": {"test": "datum.value % 30 === 0", "value": -10}, "value": -6},
                           "labelPadding": 31, "title": "δD ice (‰)", "titleX": -121, "titleBaseline": "alphabetic"}}
          }
        },
        {
          "data": {"name": "events"},
          "mark": {"type": "text", "align": "center", "baseline": "alphabetic", "font": "Liberation Sans", "fontSize": 46, "fontWeight": "bold", "color": "#000000"},
          "encoding": {
            "x": {"field": "age", "type": "quantitative", "scale": {"domain": [0, 800], "nice": false, "zero": false},
                  "axis": {"orient": "top", "values": [0,50,100,150,200,250,300,350,400,450,500,550,600,650,700,750,800], "labels": false, "title": null}},
            "y": {"field": "dD", "type": "quantitative", "scale": {"domain": [-450, -364.3], "nice": false, "zero": false},
                  "axis": {"orient": "right", "values": [-450,-440,-430,-420,-410,-400,-390,-380,-370], "labels": false, "title": null,
                           "tickSize": {"condition": {"test": "datum.value % 30 === 0", "value": -10}, "value": -6}}},
            "text": {"field": "label"}
          }
        },
        {
          "data": {"values": [{"age": 164.3, "dD": -379.9, "label": "Warm"}, {"age": 164.3, "dD": -416, "label": "Cold"}]},
          "mark": {"type": "text", "align": "center", "baseline": "alphabetic", "font": "Liberation Sans", "fontSize": 32, "fontStyle": "italic", "color": "#000000"},
          "encoding": {
            "x": {"field": "age", "type": "quantitative", "scale": {"domain": [0, 800], "nice": false, "zero": false}, "axis": null},
            "y": {"field": "dD", "type": "quantitative", "scale": {"domain": [-450, -364.3], "nice": false, "zero": false}, "axis": null},
            "text": {"field": "label"}
          }
        },
        {
          "data": {"values": [{"age": 164, "top": -382.8, "bot": -408.2}]},
          "mark": {"type": "rule", "color": "#000000", "strokeWidth": 2.2},
          "encoding": {
            "x": {"field": "age", "type": "quantitative", "scale": {"domain": [0, 800], "nice": false, "zero": false}, "axis": null},
            "y": {"field": "top", "type": "quantitative", "scale": {"domain": [-450, -364.3], "nice": false, "zero": false}, "axis": null},
            "y2": {"field": "bot"}
          }
        },
        {
          "data": {"values": [{"age": 164, "dD": -382.6, "dir": "up"}, {"age": 164, "dD": -408.4, "dir": "down"}]},
          "mark": {"type": "point", "filled": false, "color": "#000000", "strokeWidth": 2.2, "size": 200, "opacity": 1},
          "encoding": {
            "x": {"field": "age", "type": "quantitative", "scale": {"domain": [0, 800], "nice": false, "zero": false}, "axis": null},
            "y": {"field": "dD", "type": "quantitative", "scale": {"domain": [-450, -364.3], "nice": false, "zero": false}, "axis": null},
            "shape": {"field": "dir", "type": "nominal", "legend": null,
                      "scale": {"domain": ["up", "down"], "range": ["M-1,2L0,0L1,2", "M-1,-2L0,0L1,-2"]}}
          }
        },
        {
          "data": {"values": [{"a0": 88.5, "a1": 158, "v0": -377.1, "v1": -340}]},
          "mark": {"type": "rect", "fillOpacity": 0, "stroke": "#000000", "strokeWidth": 2, "clip": true},
          "encoding": {
            "x": {"field": "a0", "type": "quantitative", "scale": {"domain": [0, 800], "nice": false, "zero": false}, "axis": null},
            "x2": {"field": "a1"},
            "y": {"field": "v0", "type": "quantitative", "scale": {"domain": [-450, -364.3], "nice": false, "zero": false}, "axis": null},
            "y2": {"field": "v1"}
          }
        },
        {
          "data": {"values": [{"age": 790.3, "dD": -374.4, "label": "EPICA Dome C data"}]},
          "mark": {"type": "text", "align": "right", "baseline": "alphabetic", "font": "Liberation Sans", "fontSize": 33, "fontWeight": "bold", "fontStyle": "italic", "color": "#000000"},
          "encoding": {
            "x": {"field": "age", "type": "quantitative", "scale": {"domain": [0, 800], "nice": false, "zero": false}, "axis": null},
            "y": {"field": "dD", "type": "quantitative", "scale": {"domain": [-450, -364.3], "nice": false, "zero": false}, "axis": null},
            "text": {"field": "label"}
          }
        }
      ]
    },
    {
      "width": 1408, "height": 330,
      "view": {"fill": "#e7f27b", "stroke": "#000000", "strokeWidth": 3},
      "resolve": {"axis": {"x": "independent", "y": "independent"}},
      "layer": [
        {
          "data": {"name": "ch4_domec"},
          "mark": {"type": "line", "color": "#1f1b8f", "strokeWidth": 2.8},
          "encoding": {
            "x": {"field": "age", "type": "quantitative", "scale": {"domain": [0, 800], "nice": false, "zero": false},
                  "axis": {"orient": "bottom", "values": [0,50,100,150,200,250,300,350,400,450,500,550,600,650,700,750,800],
                           "labelExpr": "datum.value % 200 === 0 ? toString(datum.value) : ''",
                           "labelOffset": {"condition": [{"test": "datum.value === 0", "value": 8}, {"test": "datum.value === 400", "value": -17}], "value": 0},
                           "labelPadding": 33, "title": "Age / kyr BP", "titlePadding": 2}},
            "y": {"field": "ch4", "type": "quantitative", "scale": {"domain": [300, 791], "nice": false, "zero": false},
                  "axis": {"orient": "left", "values": [300,320,340,360,380,400,420,440,460,480,500,520,540,560,580,600,620,640,660,680,700,720,740,760,780],
                           "labelExpr": "datum.value % 100 === 0 ? toString(datum.value) : ''",
                           "tickSize": {"condition": {"test": "datum.value % 100 === 0", "value": -10}, "value": -6},
                           "labelPadding": 31, "title": "CH₄ (ppbv)", "titleX": -121, "titleBaseline": "alphabetic"}},
            "detail": {"field": "seg", "type": "nominal"}
          }
        },
        {
          "data": {"name": "ch4_vostok"},
          "mark": {"type": "line", "color": "#000000", "strokeWidth": 2.8},
          "encoding": {
            "x": {"field": "age", "type": "quantitative", "scale": {"domain": [0, 800], "nice": false, "zero": false},
                  "axis": {"orient": "top", "values": [0,50,100,150,200,250,300,350,400,450,500,550,600,650,700,750,800], "labels": false, "title": null}},
            "y": {"field": "ch4", "type": "quantitative", "scale": {"domain": [300, 791], "nice": false, "zero": false},
                  "axis": {"orient": "right", "values": [300,320,340,360,380,400,420,440,460,480,500,520,540,560,580,600,620,640,660,680,700,720,740,760,780],
                           "labels": false, "title": null,
                           "tickSize": {"condition": {"test": "datum.value % 100 === 0", "value": -10}, "value": -6}}}
          }
        },
        {
          "data": {"values": [{"age": 790, "ch4": 731.9, "label": "Vostok (black) and Dome C (blue) data"}]},
          "mark": {"type": "text", "align": "right", "baseline": "alphabetic", "font": "Liberation Sans", "fontSize": 33, "fontWeight": "bold", "fontStyle": "italic", "color": "#000000"},
          "encoding": {
            "x": {"field": "age", "type": "quantitative", "scale": {"domain": [0, 800], "nice": false, "zero": false}, "axis": null},
            "y": {"field": "ch4", "type": "quantitative", "scale": {"domain": [300, 791], "nice": false, "zero": false}, "axis": null},
            "text": {"field": "label"}
          }
        }
      ]
    }
  ]
}
